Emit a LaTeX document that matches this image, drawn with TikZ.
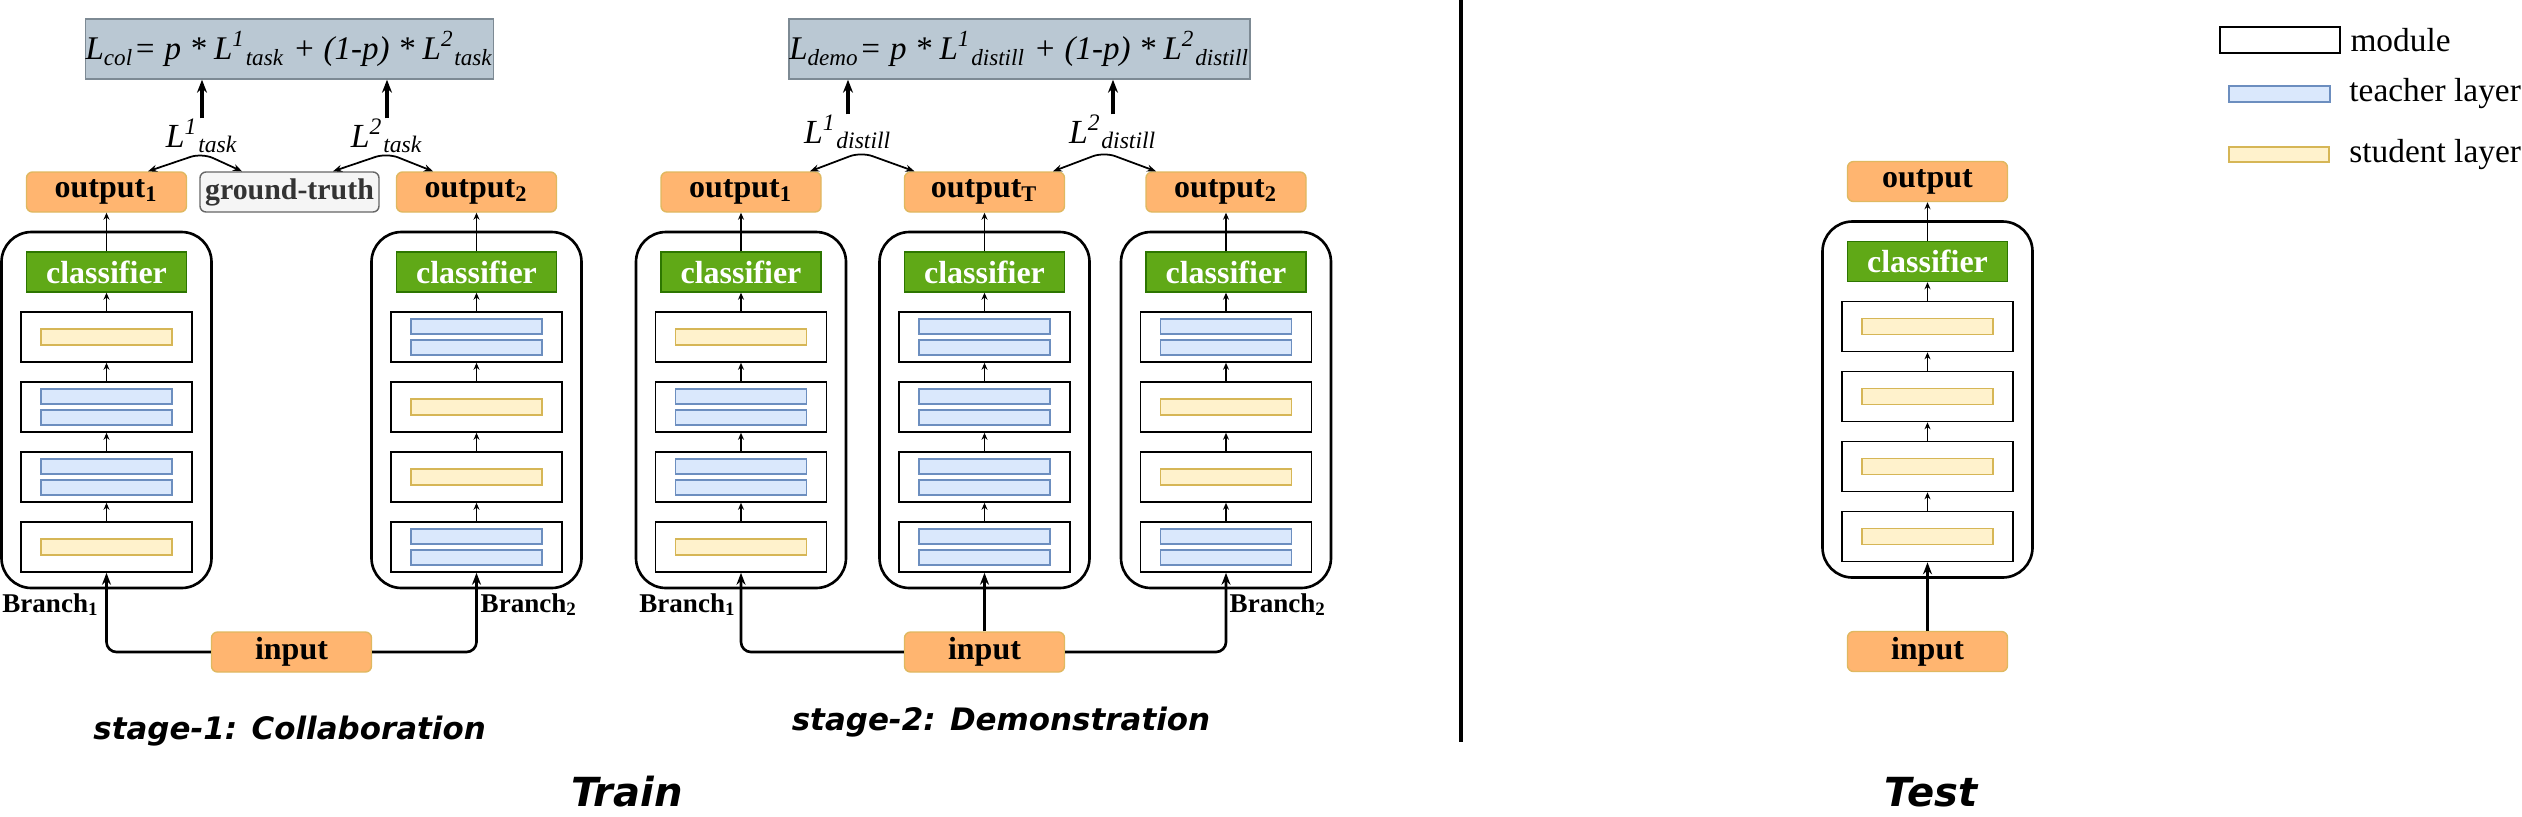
\documentclass[tikz,border=0pt]{standalone}
\usepackage{fontspec}
\setmainfont{Liberation Serif}
\newfontfamily\titlefont{DejaVu Sans}
\usetikzlibrary{arrows.meta,positioning}

\definecolor{orfill}{HTML}{FFB570}
\definecolor{ordraw}{HTML}{E0B860}
\definecolor{grfill}{HTML}{60A917}
\definecolor{grdraw}{HTML}{2D7600}
\definecolor{tefill}{HTML}{DAE8FC}
\definecolor{tedraw}{HTML}{6C8EBF}
\definecolor{stfill}{HTML}{FFF2CC}
\definecolor{stdraw}{HTML}{D6B656}
\definecolor{lofill}{HTML}{BAC8D3}
\definecolor{lodraw}{HTML}{7D8A94}
\definecolor{gtfill}{HTML}{F5F5F5}
\definecolor{gtdraw}{HTML}{666666}
\definecolor{gttext}{HTML}{333333}

\tikzset{
    outbox/.style={draw=ordraw, fill=orfill, rounded corners=0.06cm, minimum width=1.6cm,
        minimum height=0.4cm, inner sep=0, font=\bfseries\fontsize{9.1}{10}\selectfont},
    gtbox/.style={outbox, draw=gtdraw, fill=gtfill, text=gttext, minimum width=1.79cm,
        font=\bfseries\fontsize{8.5}{10}\selectfont},
    clsbox/.style={draw=grdraw, fill=grfill, text=white, minimum width=1.6cm,
        minimum height=0.4cm, inner sep=0, font=\bfseries\fontsize{9.1}{10}\selectfont},
    module/.style={draw, fill=white, minimum width=1.71cm, minimum height=0.5cm, line width=0.45pt},
    outer/.style={draw, rounded corners=0.3cm, minimum width=2.1cm, minimum height=3.56cm, line width=0.75pt},
    tea/.style={draw=tedraw, fill=tefill, minimum width=1.31cm, minimum height=0.15cm, inner sep=0},
    stu/.style={draw=stdraw, fill=stfill, minimum width=1.31cm, minimum height=0.16cm, inner sep=0},
    lossbox/.style={draw=lodraw, fill=lofill, minimum height=0.6cm, inner sep=0,
        font=\itshape\fontsize{9.4}{11}\selectfont},
    losslab/.style={inner sep=0, font=\itshape\fontsize{9.6}{11}\selectfont},
    brlab/.style={inner sep=0, font=\bfseries\fontsize{7.7}{9}\selectfont},
    legtext/.style={inner sep=0, font=\fontsize{9.5}{11}\selectfont},
    stagetitle/.style={inner sep=0, font=\titlefont\bfseries\itshape\fontsize{8.8}{10}\selectfont},
    bigtitle/.style={inner sep=0, font=\titlefont\bfseries\itshape\fontsize{11.4}{13}\selectfont},
    thinarr/.style={-{Stealth[length=0.07cm,width=0.06cm]}, line width=0.4pt},
    inarr/.style={-{Stealth[length=0.12cm,width=0.09cm]}, line width=0.75pt, rounded corners=0.1cm},
    lossarr/.style={-{Stealth[length=0.13cm,width=0.1cm]}, line width=0.9pt},
    dblarr/.style={{Stealth[length=0.09cm,width=0.07cm]}-{Stealth[length=0.09cm,width=0.07cm]},
        line width=0.5pt, rounded corners=0.12cm},
}

% one branch: prefix, shift, output text, layers of the modules from top to bottom
\newcommand{\branchcol}[4]{%
    \begin{scope}[shift={(#2)}, name prefix=#1-]
        \node[outer] (box) at (0,-4.1) {};
        \node[outbox] (out) at (0,-1.92) {#3};
        \node[clsbox] (m0) at (0,-2.72) {classifier};
        \foreach \kind [count=\k] in {#4} {
            \node[module] (m\k) at (0,{-2.67-0.7*\k}) {};
            \if s\kind
                \node[stu] (s\k) at (m\k) {};
            \else
                \node[tea] (t\k) at ([yshift=0.105cm]m\k.center) {};
                \node[tea] (u\k) at ([yshift=-0.105cm]m\k.center) {};
            \fi
        }
        \foreach \k [count=\j from 0] in {1,...,4}
            \draw[thinarr] (m\k) -- (m\j);
        \draw[thinarr] (m0) -- (out);
    \end{scope}}

\begin{document}
\begin{tikzpicture}
    \useasboundingbox (0,0) rectangle (25.22,-8.16);

    % stage 1
    \branchcol{a}{1.065,0}{output\textsubscript{1}}{s,t,t,s}
    \branchcol{b}{4.765,0}{output\textsubscript{2}}{t,s,s,t}
    \node[gtbox] (GT) at (2.895,-1.92) {ground-truth};
    \node[lossbox, minimum width=4.01cm] (LC) at (2.895,-0.49)
        {L\textsubscript{col}= p * L\textsuperscript{1}\textsubscript{task} + (1-p) * L\textsuperscript{2}\textsubscript{task}};
    \node[losslab] (LT1) at (2.02,-1.36) {L\textsuperscript{1}\textsubscript{task}};
    \node[losslab] (LT2) at (3.87,-1.36) {L\textsuperscript{2}\textsubscript{task}};
    \coordinate (P1) at (2.02,-1.53);
    \coordinate (P2) at (3.87,-1.53);
    \draw[dblarr] ([xshift=0.415cm]a-out.north) -- (P1) -- ([xshift=-0.475cm]GT.north);
    \draw[dblarr] ([xshift=0.435cm]GT.north) -- (P2) -- ([xshift=-0.435cm]b-out.north);
    \draw[lossarr] (LT1.north) -- (LT1.north |- LC.south);
    \draw[lossarr] (LT2.north) -- (LT2.north |- LC.south);
    \node[outbox] (IN1) at (2.915,-6.52) {input};
    \draw[inarr] (IN1.west) -| (a-m4.south);
    \draw[inarr] (IN1.east) -| (b-m4.south);
    \node[brlab, anchor=base east] (BR1) at (1.0,-6.12) {Branch\textsubscript{1}};
    \node[brlab, anchor=base west] (BR2) at (4.8,-6.12) {Branch\textsubscript{2}};
    \node[stagetitle] (S1) at (2.896,-7.31) {stage-1: Collaboration};

    % stage 2
    \branchcol{c}{7.41,0}{output\textsubscript{1}}{s,t,t,s}
    \branchcol{d}{9.845,0}{output\textsubscript{T}}{t,t,t,t}
    \branchcol{e}{12.26,0}{output\textsubscript{2}}{t,s,s,t}
    \node[lossbox, minimum width=4.61cm] (LD) at (10.195,-0.49)
        {L\textsubscript{demo}= p * L\textsuperscript{1}\textsubscript{distill} + (1-p) * L\textsuperscript{2}\textsubscript{distill}};
    \node[losslab] (LD1) at (8.48,-1.32) {L\textsuperscript{1}\textsubscript{distill}};
    \node[losslab] (LD2) at (11.13,-1.32) {L\textsuperscript{2}\textsubscript{distill}};
    \coordinate (P3) at (8.61,-1.52);
    \coordinate (P4) at (11.04,-1.52);
    \draw[dblarr] ([xshift=0.69cm]c-out.north) -- (P3) -- ([xshift=-0.70cm]d-out.north);
    \draw[dblarr] ([xshift=0.685cm]d-out.north) -- (P4) -- ([xshift=-0.70cm]e-out.north);
    \draw[lossarr] (LD1.north) -- (LD1.north |- LD.south);
    \draw[lossarr] (LD2.north) -- (LD2.north |- LD.south);
    \node[outbox] (IN2) at (9.845,-6.52) {input};
    \draw[inarr] (IN2.west) -| (c-m4.south);
    \draw[inarr] (IN2) -- (d-m4.south);
    \draw[inarr] (IN2.east) -| (e-m4.south);
    \node[brlab, anchor=base east] (BR3) at (7.37,-6.12) {Branch\textsubscript{1}};
    \node[brlab, anchor=base west] (BR4) at (12.29,-6.12) {Branch\textsubscript{2}};
    \node[stagetitle] (S2) at (10.01,-7.22) {stage-2: Demonstration};

    \node[bigtitle] (TR) at (6.27,-7.92) {Train};
    \draw[line width=1.1pt] (14.61,0) -- (14.61,-7.42);

    % test
    \branchcol{f}{19.275,0.105}{output}{s,s,s,s}
    \node[outbox] (IN3) at (19.275,-6.515) {input};
    \draw[inarr] (IN3) -- (f-m4.south);
    \node[bigtitle] (TE) at (19.31,-7.92) {Test};

    % legend
    \node[module, minimum width=1.2cm, minimum height=0.26cm] (LG1) at (22.80,-0.40) {};
    \node[tea, minimum width=1.01cm, minimum height=0.16cm] (LG2) at (22.795,-0.94) {};
    \node[stu, minimum width=1.0cm, minimum height=0.15cm] (LG3) at (22.79,-1.545) {};
    \node[legtext, right=0.09cm of LG1] (LT) {module};
    \node[legtext, right=0.18cm of LG2] (LTE) {teacher layer};
    \node[legtext, right=0.19cm of LG3] (LST) {student layer};

\end{tikzpicture}
\end{document}
